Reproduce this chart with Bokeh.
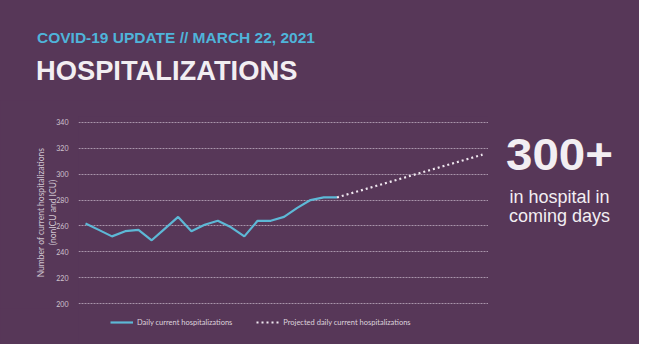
from bokeh.plotting import figure
from bokeh.models import Legend, LegendItem, FixedTicker, Range1d, Div
from bokeh.layouts import column, row
from bokeh.embed import file_html
from bokeh.resources import INLINE

# ---- data ----
days = list(range(20))
current = [262, 257, 252, 256, 257, 249, 258, 267, 256, 261,
           264, 259, 252, 264, 264, 267, 274, 280, 282, 282]
proj_days = list(range(19, 31))
projected = [282, 285, 288, 291, 294, 297, 300, 303, 306, 309, 312, 315]
y_ticks = [200, 220, 240, 260, 280, 300, 320, 340]
series_names = ["Daily current hospitalizations", "Projected daily current hospitalizations"]
header = "COVID-19 UPDATE // MARCH 22, 2021"
title = "HOSPITALIZATIONS"
callout = "300+"
callout_sub = ["in hospital in", "coming days"]
y_label = "Number of current hospitalizations\n(nonICU and ICU)"

BG = "#573758"
BLUE = "#5db8d6"
PROJ = "#f0e8f0"
TOTAL_W = 639
FIG_W, FIG_H = 488, 208
LEG_H = 36
HEAD_H = 100
SIDE_W = TOTAL_W - FIG_W
BGSTYLE = {"background-color": BG}

p = figure(width=FIG_W, height=FIG_H, output_backend="svg", toolbar_location=None,
           x_range=Range1d(-0.53, 30.45), y_range=Range1d(196.4, 344.4),
           min_border_left=78, min_border_right=0, min_border_top=16, min_border_bottom=0)
p.background_fill_color = BG
p.border_fill_color = BG
p.outline_line_color = None
p.margin = 0
p.styles = BGSTYLE

p.xaxis.visible = False
p.xgrid.visible = False
p.yaxis.ticker = FixedTicker(ticks=y_ticks)
p.yaxis.axis_line_color = None
p.yaxis.major_tick_line_color = None
p.yaxis.minor_tick_line_color = None
p.yaxis.major_label_text_color = "#cfc4cf"
p.yaxis.major_label_text_font = "Lato"
p.yaxis.major_label_text_font_size = "7px"
p.yaxis.major_label_standoff = 4
p.yaxis.axis_label = y_label
p.yaxis.axis_label_text_font = "Lato"
p.yaxis.axis_label_text_font_style = "normal"
p.yaxis.axis_label_text_font_size = "8.5px"
p.yaxis.axis_label_text_color = "#cfc4cf"
p.yaxis.axis_label_standoff = -5
p.ygrid.grid_line_color = "#a994aa"
p.ygrid.grid_line_dash = "2 1"
p.ygrid.grid_line_width = 1

p.line(days, current, line_color=BLUE, line_width=2.2)
p.line(proj_days, projected, line_color=PROJ, line_width=2.2, line_dash="2 3")

# legend strip below the chart (its lines use the same data, kept outside its visible range)
pleg = figure(width=FIG_W, height=LEG_H, output_backend="svg", toolbar_location=None,
              x_range=Range1d(0, 1), y_range=Range1d(0, 1),
              x_axis_location=None, y_axis_location=None,
              min_border_left=0, min_border_right=0, min_border_top=0, min_border_bottom=0)
pleg.background_fill_color = BG
pleg.border_fill_color = BG
pleg.outline_line_color = None
pleg.grid.visible = False
pleg.margin = 0
pleg.styles = BGSTYLE
l1 = pleg.line(days, current, line_color=BLUE, line_width=2.2)
l2 = pleg.line(proj_days, projected, line_color=PROJ, line_width=2.2, line_dash="2 3")
legend = Legend(items=[LegendItem(label=series_names[0], renderers=[l1]),
                       LegendItem(label=series_names[1], renderers=[l2])],
                orientation="horizontal", location=(32, 17),
                background_fill_alpha=0, border_line_color=None,
                label_text_color="#ddd3dd", label_text_font="Lato",
                label_text_font_size="7.5px", glyph_width=23, glyph_height=10,
                label_height=10, label_standoff=4, spacing=24, padding=0, margin=0)
pleg.add_layout(legend, "center")

FONT = "'Liberation Sans', Arial, sans-serif"

def abs_text(left, top, text, size, color, bold=False, width=None, align="left", sx=1.0):
    w = f"width:{width}px;" if width else ""
    tr = f"transform:scaleX({sx});transform-origin:center;" if sx != 1.0 else ""
    return (f'<div style="position:absolute;left:{left}px;top:{top}px;{w}text-align:{align};{tr}'
            f'font-family:{FONT};font-size:{size}px;line-height:{size}px;'
            f'font-weight:{"bold" if bold else "normal"};color:{color};white-space:nowrap">{text}</div>')

head_html = (f'<div style="position:relative;width:{TOTAL_W}px;height:{HEAD_H}px;background:{BG}">'
             + abs_text(37, 30.3, header, 15.5, "#4fb4da", bold=True)
             + abs_text(36, 57.4, title, 27.3, "#f2eef2", bold=True)
             + '</div>')
side_h = FIG_H + LEG_H
side_html = (f'<div style="position:relative;width:{SIDE_W}px;height:{side_h}px;background:{BG}">'
             + abs_text(0, 32.6, callout, 44, "#f2eef2", bold=True, width=143, align="center", sx=1.08)
             + abs_text(0, 87.5, callout_sub[0], 18, "#f2eef2", width=143, align="center")
             + abs_text(0, 106.5, callout_sub[1], 18, "#f2eef2", width=143, align="center")
             + '</div>')

head = Div(text=head_html, width=TOTAL_W, height=HEAD_H, margin=0, styles=BGSTYLE)
side = Div(text=side_html, width=SIDE_W, height=side_h, margin=0, styles=BGSTYLE)

chart = column(p, pleg, spacing=0, margin=0, styles=BGSTYLE)
layout = column(head, row(chart, side, spacing=0, margin=0, styles=BGSTYLE),
                spacing=0, margin=0, styles=BGSTYLE)

open("out.html", "w").write(file_html(layout, INLINE))
